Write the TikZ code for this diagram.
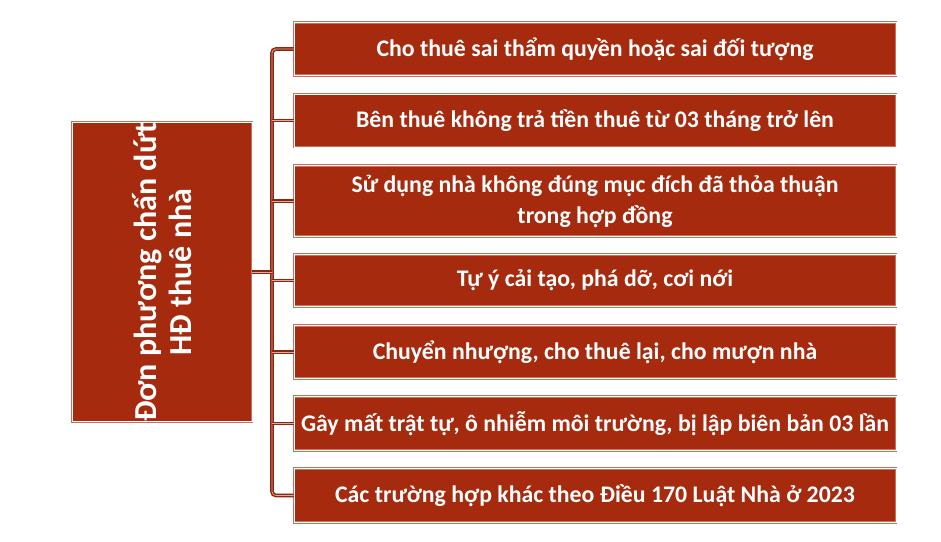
\documentclass[tikz,border=0pt]{standalone}
\usepackage{fontspec}
\setmainfont{Carlito}
\usepackage{tikz}
\usetikzlibrary{positioning}
\definecolor{boxred}{RGB}{165,42,14}
\definecolor{boxedge}{RGB}{200,112,92}
\definecolor{linered}{RGB}{140,38,14}
\definecolor{linelight}{RGB}{226,170,156}

\begin{document}
\begin{tikzpicture}[x=1pt, y=-1pt,
        item/.style={fill=boxred, draw=boxedge, line width=0.7pt, double=white, double distance=0.9pt,
            text=white, font=\fontsize{23.8}{31}\selectfont\bfseries, align=center,
            minimum width=602pt, inner sep=0pt},
        lead/.style={item, minimum width=298pt, minimum height=180pt, rotate=90,
            font=\fontsize{32}{35}\selectfont\bfseries},
        link/.style={draw=linered, line width=1.5pt, double=linelight, double distance=0.7pt}]
            \useasboundingbox (0, 0) rectangle (941, 541);

            \node [lead] (main) at (162, 272) {Đơn phương chấn dứt\\HĐ thuê nhà};

            \node [item, minimum height=53pt] (c1) at (595, 49) {Cho thuê sai thẩm quyền hoặc sai đối tượng};
            \node [item, minimum height=53pt] (c2) at (595, 120.5) {Bên thuê không trả tiền thuê từ 03 tháng trở lên};
            \node [item, minimum height=71pt] (c3) at (595, 201) {Sử dụng nhà không đúng mục đích đã thỏa thuận\\trong hợp đồng};
            \node [item, minimum height=52pt] (c4) at (595, 280.5) {Tự ý cải tạo, phá dỡ, cơi nới};
            \node [item, minimum height=53pt] (c5) at (595, 352) {Chuyển nhượng, cho thuê lại, cho mượn nhà};
            \node [item, minimum height=54pt] (c6) at (595, 423.5) {Gây mất trật tự, ô nhiễm môi trường, bị lập biên bản 03 lần};
            \node [item, minimum height=54pt] (c7) at (595, 495.5) {Các trường hợp khác theo Điều 170 Luật Nhà ở 2023};

            \coordinate (spine) at (272, 272);

            \draw [link, rounded corners=4pt] (c1.west) -| (spine) |- (c7.west);
            \foreach \i in {2,...,6}
                \draw [link] (spine |- c\i.west) -- (c\i.west);
            \draw [link] (main.south) -- (spine);
        \end{tikzpicture}
\end{document}
